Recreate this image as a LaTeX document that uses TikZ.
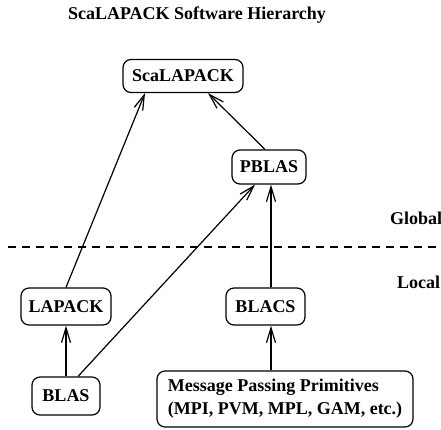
\documentclass[tikz,border=0pt]{standalone}
\usepackage{fontspec}
\setmainfont{Liberation Serif}
\usetikzlibrary{arrows.meta}

\begin{document}
\begin{tikzpicture}[
    x=1pt, y=-1pt,
    lbl/.style={font=\bfseries\fontsize{18}{23}\selectfont, inner sep=0pt},
    box/.style={draw, rounded corners=8pt, line width=1.2pt, align=left, inner sep=2pt,
                font=\bfseries\fontsize{18}{23}\selectfont},
    arr/.style={-{Straight Barb[length=15pt,width=9pt]}, line width=1.2pt},
    divider/.style={line width=1.2pt, dash pattern=on 8pt off 6pt}
]
\clip (0,0) rectangle (441,429);

% Title
\node[lbl] (title) at (197,15) {ScaLAPACK Software Hierarchy};

% Global layer
\node[box, minimum width=120pt, minimum height=33pt] (scalapack) at (183,76) {ScaLAPACK};
\node[box, minimum width=74pt, minimum height=34pt] (pblas) at (269,167) {PBLAS};

% Local layer
\node[box, minimum width=90pt, minimum height=37pt] (lapack) at (66,306.5) {LAPACK};
\node[box, minimum width=79pt, minimum height=37pt] (blacs) at (265.5,306.5) {BLACS};
\node[box, minimum width=68pt, minimum height=38pt] (blas) at (66,396) {BLAS};
\node[box, minimum width=256pt, minimum height=56pt] (mpp) at (285,399)
    {Message Passing Primitives\\(MPI, PVM, MPL, GAM, etc.)};

% Divider
\coordinate (divl) at (8,247);
\coordinate (divr) at (441,247);
\draw[divider] (divl) -- (divr);
\node[lbl, anchor=west] (global) at (390,218) {Global};
\node[lbl, anchor=west] (local) at (397,282) {Local};

% Flow arrows
\draw[arr] (lapack.north) -- ([xshift=-38pt]scalapack.south);
\draw[arr] ([xshift=-4pt]pblas.north) -- ([xshift=25pt]scalapack.south);
\draw[arr] ([xshift=12pt]blas.north) -- ([xshift=-14pt]pblas.south);
\draw[arr] ([xshift=5.5pt]blacs.north) -- ([xshift=5.5pt]blacs.north |- pblas.south);
\draw[arr] (blas.north) -- (lapack.south);
\draw[arr] ([xshift=5.5pt]blacs.south |- mpp.north) -- ([xshift=5.5pt]blacs.south);
\end{tikzpicture}
\end{document}
